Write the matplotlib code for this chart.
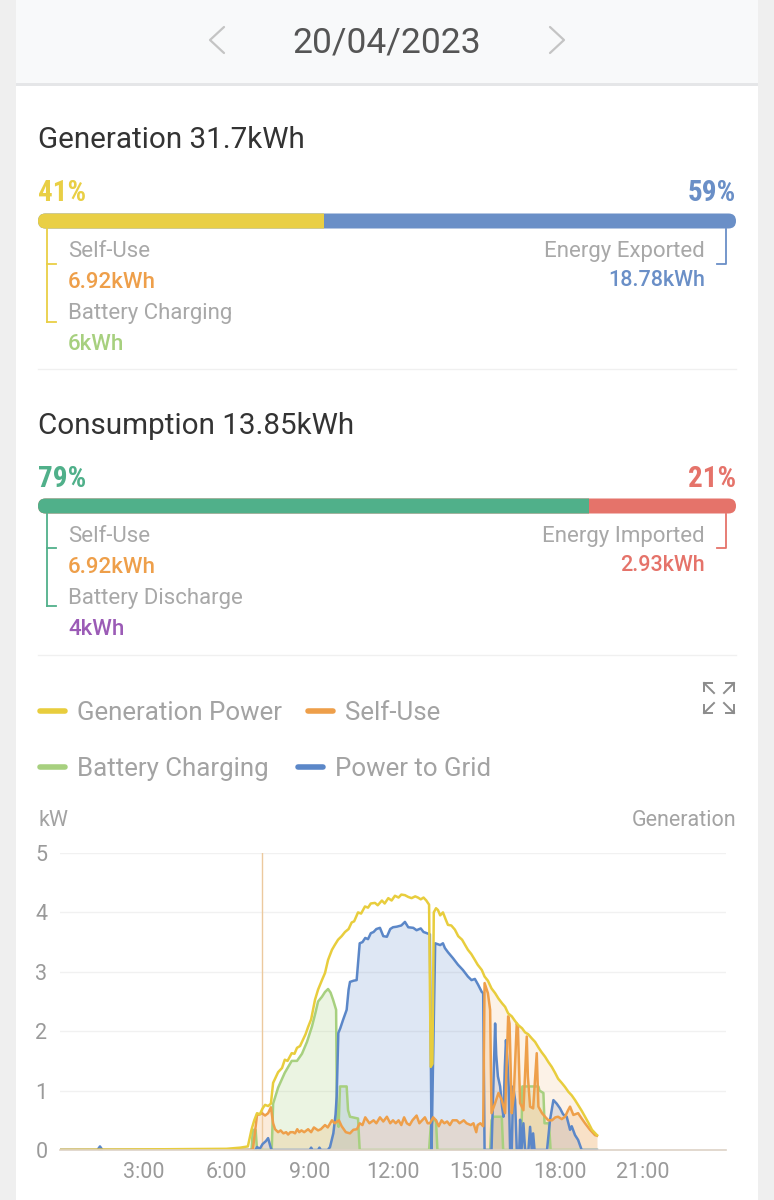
import matplotlib
matplotlib.use('Agg')
import matplotlib.pyplot as plt
import numpy as np
from matplotlib.patches import FancyBboxPatch, Rectangle
from matplotlib import font_manager as fm

# ---------------- data ----------------
date_label = '20/04/2023'
gen_total = 31.7
gen_pcts = [41, 59]
gen_self_use = 6.92
gen_battery = 6
gen_exported = 18.78
cons_total = 13.85
cons_pcts = [79, 21]
cons_self_use = 6.92
cons_discharge = 4
cons_imported = 2.93

legend_names = ['Generation Power', 'Self-Use', 'Battery Charging', 'Power to Grid']
x_ticks = [3, 6, 9, 12, 15, 18, 21]
x_tick_labels = ['3:00', '6:00', '9:00', '12:00', '15:00', '18:00', '21:00']
y_ticks = [0, 1, 2, 3, 4, 5]
cursor_hour = 7.27

generation = [(0, 0), (6.0, 0.02), (6.5, 0.04), (6.77, 0.06), (6.9, 0.34), (7.0, 0.5), (7.1, 0.62), (7.2, 0.6),
              (7.3, 0.7), (7.39, 0.76), (7.5, 0.74), (7.6, 0.78), (7.68, 1.13), (7.86, 1.31), (8.0, 1.38),
              (8.1, 1.52), (8.2, 1.5), (8.35, 1.63), (8.45, 1.62), (8.54, 1.72), (8.65, 1.75), (8.72, 1.82),
              (8.85, 1.95), (8.94, 2.07), (9.05, 2.2), (9.19, 2.53), (9.3, 2.7), (9.44, 2.86), (9.55, 2.98),
              (9.66, 3.2), (9.8, 3.37), (9.9, 3.45), (10.02, 3.54), (10.15, 3.6), (10.27, 3.67), (10.4, 3.72),
              (10.51, 3.83), (10.6, 3.85), (10.74, 4.0), (10.85, 3.98), (10.99, 4.1), (11.1, 4.08), (11.2, 4.15),
              (11.35, 4.16), (11.45, 4.12), (11.6, 4.2), (11.7, 4.15), (11.83, 4.24), (11.95, 4.2), (12.07, 4.28),
              (12.2, 4.25), (12.3, 4.3), (12.43, 4.29), (12.55, 4.26), (12.67, 4.24), (12.8, 4.27), (12.9, 4.25),
              (13.0, 4.22), (13.1, 4.25), (13.2, 4.2), (13.3, 4.13), (13.36, 1.4), (13.42, 1.45), (13.47, 4.0),
              (13.55, 4.07), (13.62, 4.04), (13.7, 3.95), (13.8, 4.0), (13.9, 3.88), (13.98, 3.79), (14.1, 3.78),
              (14.23, 3.71), (14.35, 3.6), (14.49, 3.54), (14.6, 3.45), (14.7, 3.37), (14.82, 3.3), (14.95, 3.2),
              (15.05, 3.12), (15.2, 3.03), (15.3, 2.92), (15.42, 2.85), (15.55, 2.72), (15.68, 2.64), (15.8, 2.55),
              (15.93, 2.47), (16.04, 2.41), (16.15, 2.3), (16.28, 2.25), (16.4, 2.17), (16.52, 2.1), (16.65, 2.05),
              (16.76, 1.98), (16.87, 1.95), (17.0, 1.88), (17.12, 1.82), (17.25, 1.72), (17.35, 1.65), (17.48, 1.57),
              (17.6, 1.48), (17.72, 1.4), (17.84, 1.3), (17.95, 1.2), (18.08, 1.13), (18.2, 1.06), (18.32, 0.98),
              (18.44, 0.92), (18.56, 0.84), (18.68, 0.75), (18.8, 0.66), (18.92, 0.56), (19.05, 0.45), (19.17, 0.34),
              (19.35, 0.25)]

self_use = [(0, 0), (6.95, 0), (7.0, 0.2), (7.1, 0.59), (7.2, 0.6), (7.28, 0.62), (7.39, 0.58), (7.5, 0.62),
            (7.6, 0.72), (7.68, 0.45), (7.75, 0.35), (7.86, 0.3), (7.95, 0.33), (8.05, 0.28), (8.15, 0.3),
            (8.22, 0.26), (8.3, 0.3), (8.4, 0.3), (8.47, 0.28), (8.55, 0.35), (8.62, 0.3), (8.7, 0.33), (8.8, 0.3),
            (8.94, 0.35), (9.05, 0.3), (9.15, 0.38), (9.3, 0.33), (9.4, 0.35), (9.55, 0.42), (9.65, 0.38),
            (9.8, 0.5), (9.9, 0.45), (10.05, 0.5), (10.15, 0.4), (10.3, 0.3), (10.45, 0.28), (10.57, 0.34),
            (10.7, 0.35), (10.8, 0.45), (10.9, 0.42), (11.0, 0.55), (11.15, 0.45), (11.3, 0.5), (11.4, 0.45),
            (11.53, 0.55), (11.65, 0.48), (11.78, 0.56), (11.9, 0.45), (12.0, 0.5), (12.1, 0.45), (12.2, 0.5),
            (12.3, 0.42), (12.4, 0.55), (12.5, 0.45), (12.6, 0.42), (12.7, 0.5), (12.85, 0.58), (12.95, 0.45),
            (13.05, 0.5), (13.15, 0.55), (13.25, 0.45), (13.33, 0.45), (13.45, 0.55), (13.55, 0.5), (13.65, 0.4),
            (13.75, 0.5), (13.85, 0.45), (13.95, 0.48), (14.05, 0.42), (14.15, 0.5), (14.3, 0.5), (14.4, 0.45),
            (14.55, 0.5), (14.65, 0.45), (14.8, 0.42), (14.9, 0.45), (15.0, 0.3), (15.05, 0.42), (15.15, 0.45),
            (15.25, 0.4), (15.3, 2.81), (15.42, 2.64), (15.5, 2.36), (15.55, 0.62), (15.68, 0.79), (15.8, 0.96),
            (15.92, 0.84), (16.04, 0.62), (16.15, 2.25), (16.2, 2.13), (16.28, 0.62), (16.35, 0.9), (16.46, 2.13),
            (16.5, 2.08), (16.58, 0.79), (16.7, 0.67), (16.82, 1.91), (16.86, 1.24), (16.94, 0.73), (17.05, 0.7),
            (17.18, 1.63), (17.24, 0.73), (17.37, 0.62), (17.48, 0.56), (17.6, 0.5), (17.73, 0.5), (17.85, 0.55),
            (17.95, 0.56), (18.08, 0.52), (18.2, 0.56), (18.31, 0.67), (18.38, 0.73), (18.5, 0.59), (18.67, 0.62),
            (18.8, 0.53), (18.92, 0.45), (19.1, 0.34), (19.28, 0.25), (19.35, 0.24)]

battery_charging = [(0, 0), (6.9, 0), (6.95, 0.34), (7.05, 0.34), (7.1, 0), (7.63, 0), (7.68, 0.78), (7.86, 1.05),
                    (8.1, 1.3), (8.35, 1.5), (8.54, 1.5), (8.72, 1.62), (8.9, 1.82), (9.08, 2.08), (9.2, 2.3),
                    (9.3, 2.5), (9.44, 2.58), (9.55, 2.66), (9.66, 2.71), (9.75, 2.65), (9.84, 2.53), (9.95, 2.36),
                    (9.98, 0.5), (10.04, 0.39), (10.09, 1.07), (10.33, 1.07), (10.38, 0.67), (10.45, 0.56),
                    (10.74, 0.53), (10.8, 0), (13.3, 0), (13.36, 0.4), (13.45, 0.5), (13.55, 0.5), (13.6, 0),
                    (15.5, 0), (15.55, 0.5), (15.62, 0.56), (15.92, 0.56), (15.97, 0), (16.62, 0), (16.66, 1.07),
                    (17.24, 1.07), (17.28, 1.0), (17.42, 0.96), (17.46, 0.45), (17.62, 0.45), (17.68, 0), (19.35, 0)]

power_to_grid = [(0, 0), (1.35, 0), (1.44, 0.06), (1.53, 0), (7.05, 0), (7.1, 0.05), (7.2, 0.02), (7.3, 0.1),
                 (7.42, 0.15), (7.5, 0.2), (7.57, 0.08), (7.62, 0), (9.0, 0), (9.05, 0.04), (9.1, 0), (9.3, 0),
                 (9.35, 0.04), (9.4, 0), (9.65, 0), (9.73, 0.05), (9.85, 0.28), (9.93, 0.6), (9.97, 0.9),
                 (10.03, 1.97), (10.1, 2.05), (10.2, 2.19), (10.33, 2.36), (10.4, 2.7), (10.45, 2.83), (10.58, 2.85),
                 (10.69, 2.86), (10.8, 3.48), (10.9, 3.5), (11.0, 3.57), (11.1, 3.55), (11.2, 3.65), (11.3, 3.67),
                 (11.4, 3.72), (11.53, 3.74), (11.65, 3.6), (11.78, 3.59), (11.9, 3.72), (12.0, 3.75), (12.14, 3.76),
                 (12.3, 3.78), (12.43, 3.84), (12.55, 3.75), (12.73, 3.74), (12.85, 3.7), (13.0, 3.73), (13.1, 3.67),
                 (13.22, 3.65), (13.33, 3.63), (13.39, 0.0), (13.44, 1.4), (13.52, 3.48), (13.7, 3.45), (13.8, 3.48),
                 (13.87, 3.4), (13.98, 3.33), (14.16, 3.23), (14.34, 3.12), (14.52, 3.03), (14.7, 2.92),
                 (14.83, 2.86), (14.95, 2.88), (15.07, 2.78), (15.2, 2.66), (15.25, 2.64), (15.3, 0), (15.55, 0),
                 (15.6, 0.8), (15.68, 2.13), (15.72, 1.6), (15.78, 1.24), (15.86, 1.07), (15.93, 0.73), (15.98, 0.56),
                 (16.03, 1.4), (16.07, 1.85), (16.12, 1.52), (16.17, 1.07), (16.22, 0), (16.28, 0), (16.33, 1.07),
                 (16.4, 0.84), (16.46, 0), (16.55, 0), (16.58, 0.51), (16.63, 0), (16.7, 0.45), (16.76, 0),
                 (16.88, 0), (16.94, 0.39), (17.0, 0), (17.05, 0.28), (17.1, 0), (17.55, 0), (17.66, 0.51),
                 (17.78, 0.84), (17.9, 0.78), (18.02, 0.7), (18.13, 0.6), (18.26, 0.56), (18.38, 0.34), (18.44, 0.4),
                 (18.56, 0.25), (18.67, 0.17), (18.8, 0), (19.35, 0)]

# ---------------- style ----------------
def pick(names):
    for n in names:
        try:
            fm.findfont(fm.FontProperties(family=n), fallback_to_default=False)
            return n
        except Exception:
            pass
    return 'DejaVu Sans'

BASE = pick(['Roboto', 'Liberation Sans', 'DejaVu Sans'])
NARROW = pick(['Liberation Sans Narrow', 'Roboto Condensed', 'DejaVu Sans Condensed', 'Roboto'])
plt.rcParams['font.family'] = [BASE, 'DejaVu Sans']

YEL = '#e8cd3d'
YEL_BAR = '#e9cf45'
ORG = '#ee9f4a'
GRN = '#a7d07f'
BLU = '#5b87c8'
BLU_BAR = '#6a8fc7'
TEAL = '#50b08a'
RED = '#e5736a'
PUR = '#9b5bb6'
LBL = '#a8a8a8'

fig = plt.figure(figsize=(7.74, 12), dpi=100)
fig.patch.set_facecolor('#efefef')
bg = fig.add_axes([0, 0, 1, 1])
bg.set_xlim(0, 774)
bg.set_ylim(1200, 0)
bg.axis('off')

bg.add_patch(Rectangle((16, 0), 742, 83, color='#f8f9fa', lw=0))
bg.add_patch(Rectangle((16, 83), 742, 3, color='#e5e6e8', lw=0))
bg.add_patch(Rectangle((16, 86), 742, 1114, color='white', lw=0))

PX = 100 / 72.0


def txt(x, yc, s, size, color, ha='left', family=None, weight='normal'):
    bg.text(x, yc + 0.355 * size * PX, s, fontsize=size, color=color, ha=ha, va='baseline',
            family=family or BASE, fontweight=weight)


# header
bg.plot([224, 210, 224], [27, 40, 53], color='#c4c4c4', lw=1.6, solid_capstyle='round')
bg.plot([550, 564, 550], [27, 40, 53], color='#c4c4c4', lw=1.6, solid_capstyle='round')
txt(387, 40, date_label, 25.5, '#555555', ha='center')


def split_bar(yc, pcts, c1, c2):
    x0, x1, h = 38, 736, 15
    r = h / 2
    bg.add_patch(FancyBboxPatch((x0, yc - r), x1 - x0, h, boxstyle=f"round,pad=0,rounding_size={r}",
                                fc=c2, ec='none'))
    xs = x0 + (x1 - x0) * pcts[0] / sum(pcts)
    left = FancyBboxPatch((x0, yc - r), x1 - x0, h, boxstyle=f"round,pad=0,rounding_size={r}",
                          fc=c1, ec='none')
    bg.add_patch(left)
    left.set_clip_path(Rectangle((x0 - 2, yc - h), xs - x0 + 2, 2 * h, transform=bg.transData))


def bracket(top, mid, bot, cl, cr):
    bg.plot([47, 47], [top, bot], color=cl, lw=1.3)
    bg.plot([47, 56], [mid, mid], color=cl, lw=1.3)
    bg.plot([47, 56], [bot, bot], color=cl, lw=1.3)
    bg.plot([726, 726, 717], [top, mid, mid], color=cr, lw=1.3)


# generation block
txt(38, 137, f'Generation {gen_total}kWh', 21.3, '#333333')
txt(38, 191, f'{gen_pcts[0]}%', 21, YEL_BAR, family=NARROW, weight='bold')
txt(736, 191, f'{gen_pcts[1]}%', 21, BLU_BAR, ha='right', family=NARROW, weight='bold')
split_bar(221, gen_pcts, YEL_BAR, BLU_BAR)
bracket(229, 264, 322, YEL_BAR, BLU_BAR)
txt(68, 249, 'Self-Use', 16, LBL)
txt(68, 280, f'{gen_self_use}kWh', 16, ORG, weight='medium')
txt(68, 311, 'Battery Charging', 16, LBL)
txt(68, 342, f'{gen_battery}kWh', 16, GRN, weight='medium')
txt(705, 249, 'Energy Exported', 16, LBL, ha='right')
txt(705, 278, f'{gen_exported}kWh', 15.5, BLU_BAR, ha='right', weight='medium')
bg.plot([38, 736], [369, 369], color='#f0f0f0', lw=1)

# consumption block
txt(38, 423, f'Consumption {cons_total}kWh', 21.3, '#333333')
txt(38, 477, f'{cons_pcts[0]}%', 21, TEAL, family=NARROW, weight='bold')
txt(736, 477, f'{cons_pcts[1]}%', 21, RED, ha='right', family=NARROW, weight='bold')
split_bar(506, cons_pcts, TEAL, RED)
bracket(514, 548, 606, TEAL, RED)
txt(68, 534, 'Self-Use', 16, LBL)
txt(68, 565, f'{cons_self_use}kWh', 16, ORG, weight='medium')
txt(68, 596, 'Battery Discharge', 16, LBL)
txt(68, 627, f'{cons_discharge}kWh', 16, PUR, weight='medium')
txt(705, 534, 'Energy Imported', 16, LBL, ha='right')
txt(705, 563, f'{cons_imported}kWh', 15.5, RED, ha='right', weight='medium')
bg.plot([38, 736], [655, 655], color='#f0f0f0', lw=1)

# legend
leg_pos = [(38, 711), (306, 711), (38, 767), (296, 767)]
leg_cols = [YEL, ORG, GRN, BLU]
for (lx, ly), name, col in zip(leg_pos, legend_names, leg_cols):
    bg.plot([lx + 2, lx + 27], [ly, ly], color=col, lw=4, solid_capstyle='round')
    txt(lx + 39, ly, name, 18.6, '#a3a3a3')

# expand icon
ic = '#8c8c8c'
for (cx, cy, dx, dy) in [(704, 683, 1, 1), (734, 683, -1, 1), (704, 713, 1, -1), (734, 713, -1, -1)]:
    bg.plot([cx, cx + 10 * dx], [cy, cy + 10 * dy], color=ic, lw=1.4)
    bg.plot([cx + 8 * dx, cx, cx], [cy, cy, cy + 8 * dy], color=ic, lw=1.4)

txt(38, 818, 'kW', 15.5, '#a3a3a3')
txt(736, 818, 'Generation', 15.5, '#a3a3a3', ha='right')

# ---------------- chart ----------------
ax = fig.add_axes([60 / 774, 50 / 1200, 666 / 774, 297 / 1200])
ax.patch.set_alpha(0)
ax.set_xlim(0, 24)
ax.set_ylim(0, 5)
for s in ['left', 'right', 'top']:
    ax.spines[s].set_visible(False)
ax.spines['bottom'].set_color('#ddd2c6')
ax.spines['bottom'].set_linewidth(1.2)
ax.set_yticks(y_ticks)
ax.set_xticks(x_ticks)
ax.set_xticklabels(x_tick_labels)
ax.yaxis.grid(True, color='#f1f1f1', lw=1)
ax.set_axisbelow(True)
ax.tick_params(axis='both', length=0, labelsize=15.5, labelcolor='#9a9a9a')
ax.tick_params(axis='y', pad=9)
ax.tick_params(axis='x', pad=9)


def arr(series):
    a = np.array(series, dtype=float)
    return a[:, 0], a[:, 1]


gt, gv = arr(generation)
st, sv = arr(self_use)
bt, bv = arr(battery_charging)
pt, pv = arr(power_to_grid)

ax.fill_between(bt, bv, 0, color=GRN, alpha=0.22, lw=0, zorder=1)
ax.fill_between(pt, pv, 0, color=BLU, alpha=0.2, lw=0, zorder=1)
ax.fill_between(st, sv, 0, color=ORG, alpha=0.2, lw=0, zorder=1)
ax.fill_between(gt, gv, 0, where=gt >= 15.25, color=ORG, alpha=0.13, lw=0, zorder=1)

ax.axvline(cursor_hour, color='#ecc99e', lw=1, zorder=1.5)

LW = 1.8
ax.plot(bt, bv, color=GRN, lw=LW, zorder=2)
ax.plot(pt, pv, color=BLU, lw=LW, zorder=2.1)
ax.plot(st, sv, color=ORG, lw=LW, zorder=2.2)
ax.plot(gt, gv, color=YEL, lw=LW, zorder=2.3)

fig.savefig('out.png', dpi=100, facecolor=fig.get_facecolor())
